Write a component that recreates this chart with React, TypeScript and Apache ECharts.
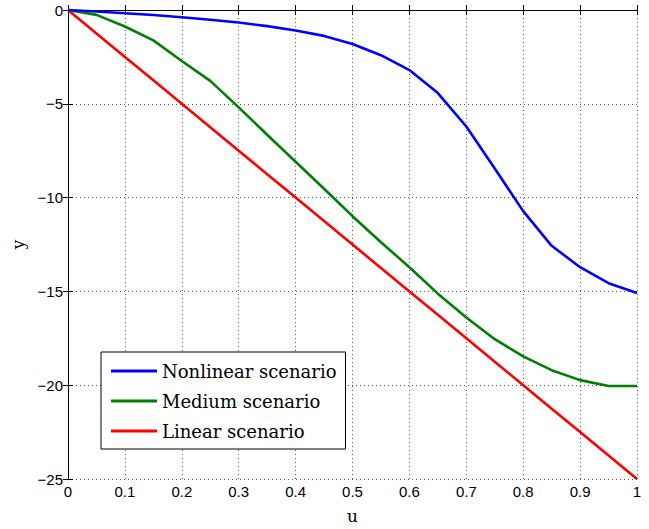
import React, { useEffect, useRef } from "react";
import * as echarts from "echarts";

const uValues = [0, 0.05, 0.1, 0.15, 0.2, 0.25, 0.3, 0.35, 0.4, 0.45, 0.5, 0.55, 0.6, 0.65, 0.7, 0.75, 0.8, 0.85, 0.9, 0.95, 1];
const nonlinear = [0, -0.08, -0.17, -0.27, -0.39, -0.52, -0.67, -0.86, -1.09, -1.38, -1.81, -2.41, -3.2, -4.43, -6.21, -8.45, -10.72, -12.57, -13.71, -14.56, -15.08];
const medium = [0, -0.26, -0.88, -1.62, -2.72, -3.78, -5.19, -6.65, -8.09, -9.53, -10.99, -12.38, -13.71, -15.12, -16.39, -17.55, -18.46, -19.2, -19.73, -20.04, -20.04];
const linear = [0, -1.25, -2.5, -3.75, -5, -6.25, -7.5, -8.75, -10, -11.25, -12.5, -13.75, -15, -16.25, -17.5, -18.75, -20, -21.25, -22.5, -23.75, -25];
const seriesNames = ["Nonlinear scenario", "Medium scenario", "Linear scenario"];
const seriesColors = ["#0000ff", "#008000", "#ff0000"];

export default function App() {
  const ref = useRef<HTMLDivElement>(null);
  useEffect(() => {
    if (!ref.current) return;
    const chart = echarts.init(ref.current, undefined, { renderer: "svg" });
    const all = [nonlinear, medium, linear];
    const tickLabel = { fontFamily: "Liberation Sans", fontSize: 15, color: "#000" };
    const axisLine = { show: true, lineStyle: { color: "#000", width: 1 } };
    const tick = { show: true, inside: true, length: 5, lineStyle: { color: "#000" } };
    chart.setOption({
      animation: false,
      backgroundColor: "#fff",
      grid: { left: 68, right: 12, top: 10, bottom: 45, containLabel: false },
      legend: {
        orient: "vertical",
        left: 101,
        top: 352,
        data: seriesNames.map((name) => ({ name, icon: "rect" })),
        backgroundColor: "#fff",
        borderColor: "#000",
        borderWidth: 1,
        padding: [10, 9, 9, 10],
        itemWidth: 46,
        itemHeight: 3,
        itemGap: 12,
        textStyle: { fontFamily: "DejaVu Serif", fontSize: 18, color: "#000", lineHeight: 18 },
      },
      xAxis: [
        {
          type: "value",
          min: 0,
          max: 1,
          interval: 0.1,
          name: "u",
          nameLocation: "middle",
          nameGap: 28,
          nameTextStyle: { fontFamily: "DejaVu Serif", fontSize: 17, color: "#000" },
          axisLine,
          axisTick: tick,
          axisLabel: { ...tickLabel, margin: 5 },
          splitLine: { show: true, lineStyle: { color: "#555", type: [1, 3], width: 1 } },
        },
        {
          type: "value",
          position: "top",
          min: 0,
          max: 1,
          interval: 0.1,
          axisLine,
          axisTick: tick,
          axisLabel: { show: false },
          splitLine: { show: false },
        },
      ],
      yAxis: [
        {
          type: "value",
          min: -25,
          max: 0,
          interval: 5,
          name: "y",
          nameLocation: "middle",
          nameRotate: 90,
          nameGap: 42,
          nameTextStyle: { fontFamily: "DejaVu Serif", fontSize: 17, color: "#000" },
          axisLine,
          axisTick: tick,
          axisLabel: {
            ...tickLabel,
            margin: 5,
            formatter: (v: number) => String(v).replace("-", "\u2212"),
          },
          splitLine: { show: true, lineStyle: { color: "#555", type: [1, 3], width: 1 } },
        },
        {
          type: "value",
          position: "right",
          min: -25,
          max: 0,
          interval: 5,
          axisLine,
          axisTick: tick,
          axisLabel: { show: false },
          splitLine: { show: false },
        },
      ],
      series: seriesNames.map((name, i) => ({
        name,
        type: "line",
        xAxisIndex: 0,
        yAxisIndex: 0,
        symbol: "none",
        clip: false,
        color: seriesColors[i],
        lineStyle: { color: seriesColors[i], width: 2.6 },
        data: uValues.map((u, j) => [u, all[i][j]]),
        z: 3 - i,
      })),
    });
    return () => chart.dispose();
  }, []);
  return (
    <div
      ref={ref}
      style={{ position: "absolute", left: 0, top: 0, width: 649, height: 529 }}
    />
  );
}
